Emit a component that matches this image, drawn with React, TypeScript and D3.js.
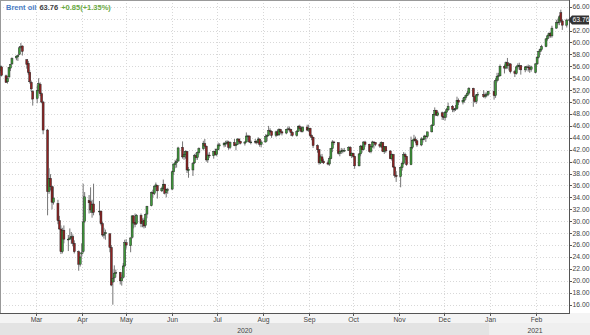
import React from "react";
import * as d3 from "d3";

// [day, open, high, low, close]
const feb2020 = [
  [5, 54.6, 55.6, 54.3, 55.3], [6, 55.3, 56.2, 54.9, 55.9], [7, 55.9, 56.1, 54.3, 54.5],
  [10, 54.4, 54.6, 53.2, 53.3], [11, 53.4, 54.4, 53.1, 54.0], [12, 54.2, 55.9, 54.1, 55.8],
  [13, 55.7, 56.4, 55.2, 56.3], [14, 56.4, 57.5, 56.2, 57.3], [17, 57.4, 57.8, 57.0, 57.7],
  [18, 57.6, 58.0, 56.9, 57.8], [19, 58.0, 59.4, 57.9, 59.1], [20, 59.2, 59.9, 58.9, 59.3],
  [21, 59.4, 59.5, 57.8, 58.5], [24, 57.1, 57.2, 55.6, 56.3], [25, 56.5, 56.9, 54.6, 55.0],
  [26, 55.0, 55.4, 53.1, 53.4], [27, 53.3, 53.6, 51.8, 52.2], [28, 51.8, 52.0, 49.4, 50.5],
];
const mar2020 = [
  [2, 50.6, 52.8, 49.8, 51.9], [3, 51.9, 54.0, 51.6, 53.1], [4, 53.0, 53.3, 51.0, 51.4],
  [5, 51.4, 51.6, 49.8, 50.0], [6, 50.0, 50.2, 44.6, 45.3], [9, 45.3, 45.5, 31.0, 35.0],
  [10, 35.0, 38.9, 34.6, 37.2], [11, 37.2, 37.9, 35.2, 35.8], [12, 35.8, 36.0, 32.0, 33.2],
  [13, 33.2, 35.8, 32.8, 33.9], [16, 33.0, 33.6, 29.5, 30.1], [17, 30.1, 30.9, 28.6, 28.7],
  [18, 28.7, 29.3, 24.5, 24.9], [19, 24.9, 28.9, 24.6, 28.5], [20, 28.5, 29.3, 26.3, 27.0],
  [23, 27.0, 27.7, 25.0, 27.0], [24, 27.0, 28.8, 26.9, 27.2], [25, 27.2, 28.2, 26.2, 27.4],
  [26, 27.4, 27.8, 25.8, 26.3], [27, 26.3, 26.8, 24.6, 24.9], [30, 24.9, 25.1, 21.7, 22.8],
  [31, 22.8, 24.3, 22.4, 24.0],
];
const apr2020 = [
  [1, 24.5, 26.3, 24.0, 24.7], [2, 24.9, 36.3, 24.6, 29.9], [3, 30.0, 34.9, 29.7, 34.1],
  [6, 33.5, 34.4, 31.3, 33.1], [7, 33.3, 35.7, 31.4, 31.9], [8, 31.5, 33.6, 30.6, 32.8],
  [9, 32.9, 36.3, 31.0, 31.5], [13, 31.6, 33.4, 31.0, 31.7], [14, 31.7, 31.8, 29.3, 29.6],
  [15, 29.6, 29.9, 27.4, 27.7], [16, 27.7, 28.9, 27.1, 27.8], [17, 27.9, 28.6, 26.9, 28.1],
  [20, 27.9, 28.0, 24.8, 25.6], [21, 25.6, 26.0, 19.1, 19.3], [22, 19.8, 22.0, 16.0, 20.4],
  [23, 20.5, 22.6, 19.8, 21.3], [24, 21.3, 21.9, 20.6, 21.4], [27, 21.4, 21.5, 19.4, 20.0],
  [28, 20.0, 21.0, 19.2, 20.5], [29, 20.6, 23.0, 20.4, 22.5], [30, 22.5, 26.9, 22.3, 26.4],
];
const may2020 = [
  [1, 26.4, 27.0, 25.4, 26.0], [4, 25.9, 27.3, 24.8, 27.2], [5, 27.3, 31.0, 27.1, 30.9],
  [6, 30.9, 31.0, 28.8, 29.7], [7, 29.8, 31.3, 29.0, 29.5], [8, 29.6, 31.2, 29.4, 31.0],
  [11, 31.0, 31.3, 29.0, 29.6], [12, 29.7, 30.5, 29.0, 30.0], [13, 30.2, 30.6, 28.8, 29.2],
  [14, 29.3, 31.3, 28.9, 31.1], [15, 31.2, 32.6, 30.5, 32.5], [18, 32.6, 35.0, 32.5, 34.8],
  [19, 34.8, 35.3, 34.0, 34.7], [20, 34.7, 36.0, 34.4, 35.8], [21, 35.8, 36.5, 35.3, 36.1],
  [22, 36.0, 36.1, 33.8, 35.1], [25, 35.1, 35.8, 34.9, 35.5], [26, 35.5, 37.0, 35.3, 36.2],
  [27, 36.2, 36.3, 34.5, 34.7], [28, 34.8, 35.5, 34.0, 35.3], [29, 35.3, 35.6, 34.6, 35.3],
];
const jun2020 = [
  [1, 35.4, 38.5, 35.2, 38.3], [2, 38.3, 39.7, 37.8, 39.6], [3, 39.5, 40.3, 38.9, 39.8],
  [4, 39.8, 40.5, 39.0, 40.0], [5, 40.1, 42.5, 40.0, 42.3], [8, 42.4, 43.4, 40.5, 40.8],
  [9, 40.8, 41.7, 40.3, 41.2], [10, 41.2, 41.9, 40.5, 41.7], [11, 41.7, 41.8, 38.1, 38.6],
  [12, 38.5, 39.1, 37.3, 38.7], [15, 38.6, 39.9, 37.6, 39.7], [16, 39.8, 41.3, 39.6, 41.0],
  [17, 41.0, 41.5, 40.3, 40.7], [18, 40.7, 41.7, 40.3, 41.5], [19, 41.5, 42.4, 41.2, 42.2],
  [22, 42.2, 43.5, 41.9, 43.1], [23, 43.0, 43.8, 42.1, 42.6], [24, 42.6, 42.7, 40.0, 40.3],
  [25, 40.3, 41.4, 39.8, 41.1], [26, 41.1, 41.6, 40.6, 41.0], [29, 41.0, 41.8, 40.5, 41.7],
  [30, 41.7, 42.2, 41.0, 41.2],
];
const jul2020 = [
  [1, 41.2, 42.2, 40.9, 42.0], [2, 42.0, 43.2, 41.9, 42.8], [3, 42.8, 43.1, 42.5, 42.8],
  [6, 42.8, 43.3, 42.4, 43.1], [7, 43.1, 43.5, 42.5, 43.1], [8, 43.1, 43.6, 42.8, 43.3],
  [9, 43.3, 43.5, 42.0, 42.4], [10, 42.4, 43.4, 42.1, 43.2], [13, 43.2, 43.8, 42.6, 42.7],
  [14, 42.7, 43.0, 41.9, 42.9], [15, 42.9, 43.9, 42.8, 43.8], [16, 43.8, 43.9, 42.9, 43.4],
  [17, 43.4, 43.5, 42.9, 43.1], [20, 43.1, 43.4, 42.7, 43.3], [21, 43.3, 44.9, 43.2, 44.3],
  [22, 44.3, 44.5, 43.6, 44.3], [23, 44.3, 44.4, 43.2, 43.3], [24, 43.3, 43.6, 42.9, 43.3],
  [27, 43.3, 43.8, 43.0, 43.4], [28, 43.4, 43.6, 42.9, 43.2], [29, 43.2, 44.1, 43.0, 43.8],
  [30, 43.8, 43.9, 42.5, 42.9], [31, 42.9, 43.6, 42.4, 43.3],
];
const aug2020 = [
  [3, 43.3, 44.6, 43.2, 44.2], [4, 44.2, 44.6, 43.4, 44.4], [5, 44.4, 46.0, 44.3, 45.2],
  [6, 45.2, 45.6, 44.8, 45.1], [7, 45.1, 45.2, 44.0, 44.4], [10, 44.4, 45.2, 44.1, 45.0],
  [11, 45.0, 45.4, 44.3, 44.5], [12, 44.5, 45.6, 44.3, 45.4], [13, 45.4, 45.5, 44.7, 45.0],
  [14, 45.0, 45.2, 44.4, 44.8], [17, 44.8, 45.5, 44.6, 45.4], [18, 45.4, 45.9, 45.1, 45.5],
  [19, 45.5, 45.9, 45.1, 45.4], [20, 45.4, 45.5, 44.3, 44.9], [21, 44.9, 45.1, 44.2, 44.4],
  [24, 44.4, 45.3, 44.2, 45.1], [25, 45.1, 46.1, 45.0, 45.9], [26, 45.9, 46.2, 45.3, 45.6],
  [27, 45.6, 45.9, 44.9, 45.1], [28, 45.1, 45.9, 44.9, 45.8], [31, 45.8, 46.2, 45.1, 45.3],
];
const sep2020 = [
  [1, 45.3, 46.2, 45.0, 45.6], [2, 45.6, 45.7, 44.1, 44.4], [3, 44.4, 44.6, 43.6, 44.1],
  [4, 44.1, 44.2, 42.3, 42.7], [7, 42.7, 42.9, 41.5, 42.0], [8, 42.0, 42.1, 39.5, 39.8],
  [9, 39.8, 41.2, 39.6, 40.8], [10, 40.8, 41.3, 39.8, 40.1], [11, 40.1, 40.5, 39.6, 39.8],
  [14, 39.8, 40.2, 39.4, 39.6], [15, 39.6, 40.9, 39.3, 40.5], [16, 40.5, 42.3, 40.4, 42.2],
  [17, 42.2, 43.6, 41.6, 43.3], [18, 43.3, 43.5, 42.8, 43.2], [21, 43.2, 43.2, 41.2, 41.4],
  [22, 41.4, 42.0, 40.9, 41.7], [23, 41.7, 42.3, 41.3, 41.8], [24, 41.8, 42.2, 41.4, 41.9],
  [25, 41.9, 42.3, 41.6, 41.9], [28, 41.9, 42.6, 41.8, 42.4], [29, 42.4, 42.6, 40.9, 41.0],
  [30, 41.0, 41.6, 40.6, 41.4],
];
const oct2020 = [
  [1, 41.4, 41.5, 40.7, 40.9], [2, 40.9, 41.0, 38.8, 39.3], [5, 39.3, 41.4, 39.2, 41.3],
  [6, 41.3, 42.8, 40.9, 42.6], [7, 42.6, 42.8, 41.5, 42.0], [8, 42.0, 43.4, 41.9, 43.3],
  [9, 43.3, 43.5, 42.5, 42.9], [12, 42.9, 43.0, 41.5, 41.7], [13, 41.7, 42.6, 41.4, 42.5],
  [14, 42.5, 43.5, 42.3, 43.3], [15, 43.3, 43.4, 42.2, 43.2], [16, 43.2, 43.3, 42.6, 42.9],
  [19, 42.9, 43.2, 42.3, 42.6], [20, 42.6, 43.4, 42.3, 43.2], [21, 43.2, 43.3, 41.6, 41.7],
  [22, 41.7, 42.6, 41.3, 42.5], [23, 42.5, 42.6, 41.5, 41.8], [26, 41.8, 41.9, 40.4, 40.5],
  [27, 40.5, 41.4, 40.2, 41.2], [28, 41.2, 41.3, 39.0, 39.1], [29, 39.1, 39.3, 37.3, 37.7],
  [30, 37.7, 38.4, 36.6, 37.5],
];
const nov2020 = [
  [2, 37.5, 39.2, 35.7, 39.0], [3, 39.0, 40.0, 38.5, 39.7], [4, 39.7, 41.6, 39.5, 41.2],
  [5, 41.2, 41.5, 40.3, 40.9], [6, 40.9, 41.0, 39.3, 39.5], [9, 39.5, 44.2, 39.4, 42.4],
  [10, 42.4, 43.7, 42.1, 43.6], [11, 43.6, 44.5, 43.3, 43.8], [12, 43.8, 44.2, 43.1, 43.5],
  [13, 43.5, 43.7, 42.5, 42.8], [16, 42.8, 44.1, 42.6, 43.8], [17, 43.8, 44.0, 43.2, 43.8],
  [18, 43.8, 44.5, 43.6, 44.3], [19, 44.3, 44.4, 43.3, 44.2], [20, 44.2, 45.0, 43.9, 45.0],
  [23, 45.0, 46.3, 44.9, 46.1], [24, 46.1, 48.0, 46.0, 47.9], [25, 47.9, 49.1, 47.6, 48.6],
  [26, 48.6, 48.7, 47.7, 47.8], [27, 47.8, 48.5, 47.6, 48.2], [30, 48.2, 48.4, 47.0, 47.6],
];
const dec2020 = [
  [1, 47.6, 48.3, 47.0, 47.4], [2, 47.4, 48.5, 46.9, 48.3], [3, 48.3, 49.0, 47.4, 48.7],
  [4, 48.7, 49.9, 48.5, 49.3], [7, 49.3, 49.5, 48.3, 48.8], [8, 48.8, 49.0, 48.3, 48.8],
  [9, 48.8, 49.5, 48.5, 48.9], [10, 48.9, 50.9, 48.7, 50.3], [11, 50.3, 50.6, 49.5, 50.0],
  [14, 50.0, 50.7, 49.6, 50.3], [15, 50.3, 50.9, 49.9, 50.8], [16, 50.8, 51.3, 50.4, 51.1],
  [17, 51.1, 51.9, 51.0, 51.5], [18, 51.5, 52.5, 51.2, 52.3], [21, 52.3, 52.4, 49.2, 50.9],
  [22, 50.9, 51.0, 49.9, 50.1], [23, 50.1, 51.3, 49.7, 51.2], [24, 51.2, 51.7, 50.9, 51.3],
  [28, 51.3, 52.0, 50.7, 50.9], [29, 50.9, 51.6, 50.6, 51.1], [30, 51.1, 51.6, 50.8, 51.3],
  [31, 51.3, 51.9, 51.0, 51.8],
];
const jan2021 = [
  [4, 51.8, 53.5, 50.4, 51.1], [5, 51.1, 54.0, 50.7, 53.6], [6, 53.6, 54.9, 53.3, 54.3],
  [7, 54.3, 54.9, 53.6, 54.4], [8, 54.4, 56.3, 54.3, 56.0], [11, 56.0, 56.3, 54.8, 55.7],
  [12, 55.7, 56.8, 55.5, 56.6], [13, 56.6, 57.4, 55.6, 56.1], [14, 56.1, 56.6, 55.3, 56.4],
  [15, 56.4, 56.5, 54.8, 55.1], [18, 55.1, 55.4, 54.2, 54.8], [19, 54.8, 56.0, 54.6, 55.9],
  [20, 55.9, 56.5, 55.5, 56.1], [21, 56.1, 56.6, 55.4, 56.1], [22, 56.1, 56.1, 54.6, 55.4],
  [25, 55.4, 56.0, 55.0, 55.9], [26, 55.9, 56.1, 55.3, 55.9], [27, 55.9, 56.3, 55.1, 55.8],
  [28, 55.8, 56.2, 54.9, 55.5], [29, 55.5, 56.1, 55.1, 55.9],
];
const feb2021 = [
  [1, 55.0, 56.5, 54.8, 56.4], [2, 56.4, 57.7, 56.2, 57.5], [3, 57.5, 58.6, 57.3, 58.5],
  [4, 58.5, 59.0, 57.9, 58.8], [5, 58.8, 59.6, 58.5, 59.3], [8, 59.3, 60.7, 59.2, 60.6],
  [9, 60.6, 61.3, 60.3, 61.1], [10, 61.1, 61.7, 60.7, 61.5], [11, 61.5, 61.7, 60.8, 61.1],
  [12, 61.1, 62.8, 60.8, 62.4], [15, 62.4, 63.8, 62.3, 63.3], [16, 63.3, 64.0, 62.9, 63.4],
  [17, 63.4, 64.6, 62.9, 64.3], [18, 65.0, 65.5, 63.3, 63.6], [19, 63.6, 63.9, 62.1, 62.9],
  [22, 62.9, 64.0, 62.5, 63.76],
];

const months = [
  [2020, 1, feb2020], [2020, 2, mar2020], [2020, 3, apr2020], [2020, 4, may2020],
  [2020, 5, jun2020], [2020, 6, jul2020], [2020, 7, aug2020], [2020, 8, sep2020],
  [2020, 9, oct2020], [2020, 10, nov2020], [2020, 11, dec2020], [2021, 0, jan2021],
  [2021, 1, feb2021],
] as const;

const monthLabels = ["Mar", "Apr", "May", "Jun", "Jul", "Aug", "Sep", "Oct", "Nov", "Dec", "Jan", "Feb"];
const monthTicks = [
  [2020, 2], [2020, 3], [2020, 4], [2020, 5], [2020, 6], [2020, 7], [2020, 8], [2020, 9],
  [2020, 10], [2020, 11], [2021, 0], [2021, 1],
];
const yTicks = d3.range(16, 67, 2);
const legendName = "Brent oil";
const lastPrice = 63.76;
const change = "+0.85(+1.35%)";

type Candle = { date: Date; o: number; h: number; l: number; c: number };
const candles: Candle[] = [];
months.forEach(([yr, mo, rows]) => {
  (rows as number[][]).forEach(([d, o, h, l, c]) => {
    candles.push({ date: new Date(Date.UTC(yr, mo, d)), o, h, l, c });
  });
});

const W = 590, H = 335;
const plotR = 569, plotB = 313;

export default function App() {
  const x = d3
    .scaleTime()
    .domain([new Date(Date.UTC(2020, 1, 5, 22, 30)), new Date(Date.UTC(2021, 1, 23, 12))])
    .range([0, plotR]);
  const y = d3.scaleLinear().domain([14.61, 67.12]).range([plotB, 0]);
  const green = "#3f9a3a";
  const red = "#8e2323";
  const font = "'Liberation Sans', Arial, sans-serif";
  const janX = x(new Date(Date.UTC(2021, 0, 1)));
  const ly = y(lastPrice);

  return (
    <svg width={W} height={H} style={{ position: "absolute", left: 0, top: 0 }} fontFamily={font}>
      <defs>
        <clipPath id="plot">
          <rect x={0} y={0} width={plotR} height={plotB} />
        </clipPath>
      </defs>
      <rect x={0} y={0} width={W} height={H} fill="#fff" />
      {/* bottom bands */}
      <rect x={0} y={plotB} width={W} height={10} fill="#f4f4f4" />
      <rect x={0} y={323} width={janX} height={12} fill="#e3e3e3" />
      <rect x={janX} y={323} width={W - janX} height={12} fill="#efefef" />
      {/* grid */}
      {yTicks.map((t) => (
        <line key={"gy" + t} x1={0} x2={plotR} y1={Math.round(y(t)) + 0.5} y2={Math.round(y(t)) + 0.5}
          stroke="#d8d8d8" strokeDasharray="1,2" />
      ))}
      {monthTicks.map(([yr, mo], i) => {
        const xx = Math.round(x(new Date(Date.UTC(yr, mo, 1)))) + 0.5;
        return <line key={"gx" + i} x1={xx} x2={xx} y1={0} y2={plotB} stroke="#d8d8d8" strokeDasharray="1,2" />;
      })}
      {/* borders */}
      <line x1={0.5} x2={0.5} y1={0} y2={plotB} stroke="#999" />
      <line x1={0} x2={plotR} y1={0.5} y2={0.5} stroke="#999" />
      {/* candles */}
      <g clipPath="url(#plot)">
        {candles.map((d, i) => {
          const cx = x(d.date);
          const up = d.c >= d.o;
          const top = y(Math.max(d.o, d.c));
          const bot = y(Math.min(d.o, d.c));
          return (
            <g key={i}>
              <line x1={cx} x2={cx} y1={y(d.h)} y2={y(d.l)} stroke="#666" strokeWidth={0.9} />
              <rect x={cx - 1} y={top} width={2} height={Math.max(0.8, bot - top)}
                fill={up ? green : red} stroke="#222" strokeWidth={0.45} />
            </g>
          );
        })}
      </g>
      {/* axes */}
      <line x1={plotR + 0.5} x2={plotR + 0.5} y1={0} y2={plotB} stroke="#555" />
      <line x1={0} x2={plotR + 1} y1={plotB + 0.5} y2={plotB + 0.5} stroke="#555" />
      {yTicks.map((t) => (
        <g key={"ty" + t}>
          <line x1={plotR} x2={plotR + 3} y1={Math.round(y(t)) + 0.5} y2={Math.round(y(t)) + 0.5} stroke="#555" />
          <text x={plotR + 3.5} y={y(t)} dy="0.35em" fontSize={6.8} fill="#444">{t.toFixed(2)}</text>
        </g>
      ))}
      {monthTicks.map(([yr, mo], i) => {
        const xx = Math.round(x(new Date(Date.UTC(yr, mo, 1)))) + 0.5;
        return (
          <g key={"tx" + i}>
            <line x1={xx} x2={xx} y1={plotB} y2={plotB + 3} stroke="#555" />
            <text x={xx} y={321.5} textAnchor="middle" fontSize={6.8} fill="#444">{monthLabels[i]}</text>
          </g>
        );
      })}
      <text x={janX / 2} y={332.5} textAnchor="middle" fontSize={6.8} fill="#444">2020</text>
      <text x={535} y={332.5} textAnchor="middle" fontSize={6.8} fill="#444">2021</text>
      {/* last price marker */}
      <path d={`M${plotR - 1},${ly} L${plotR + 3},${ly - 4.5} L${W - 1},${ly - 4.5} L${W - 1},${ly + 4.5} L${plotR + 3},${ly + 4.5} Z`}
        fill="#333" />
      <text x={plotR + 3.5} y={ly} dy="0.35em" fontSize={6.8} fill="#fff">{lastPrice.toFixed(2)}</text>
      {/* legend */}
      <text x={6} y={9.5} fontSize={7.5} fontWeight="bold">
        <tspan fill="#4a7cc4">{legendName}</tspan>
        <tspan fill="#444" dx={3}>{lastPrice.toFixed(2)}</tspan>
        <tspan fill="#6aaa44" dx={3}>{change}</tspan>
      </text>
    </svg>
  );
}
